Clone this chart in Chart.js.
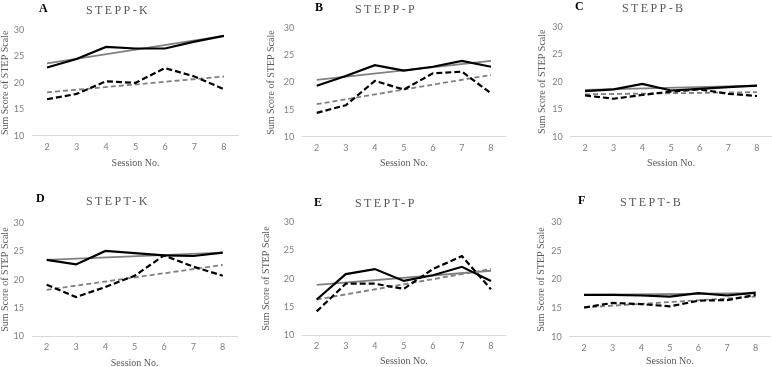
<!DOCTYPE html>
<html>
<head>
<meta charset="utf-8">
<script src="https://cdn.jsdelivr.net/npm/chart.js@4.4.1/dist/chart.umd.min.js"></script>
<style>
  html, body { margin: 0; padding: 0; background: #fff; overflow: hidden; }
  body { width: 772px; height: 367px; position: relative; }
  canvas { position: absolute; }
  .letter { position: absolute; font: bold 12px/12px "Liberation Serif", serif; color: #000; }
  .name { position: absolute; font: 12px/12px "Liberation Serif", serif; color: #595959; letter-spacing: 2.4px; white-space: nowrap; }
</style>
</head>
<body>
<script>
const sessions = ['2', '3', '4', '5', '6', '7', '8'];
const letters = ['A', 'B', 'C', 'D', 'E', 'F'];
const names = ['STEPP-K', 'STEPP-P', 'STEPP-B', 'STEPT-K', 'STEPT-P', 'STEPT-B'];

// A  STEPP-K
const steppK = [22.9, 24.5, 26.8, 26.5, 26.5, 27.8, 28.9];
const steppKDash = [16.9, 17.9, 20.3, 20.0, 22.8, 21.2, 18.8];
const steppKTrend = [23.7, null, null, null, null, null, 28.9];
const steppKDashTrend = [18.2, null, null, null, null, null, 21.2];
// B  STEPP-P
const steppP = [19.4, 21.2, 23.2, 22.2, 22.9, 24.0, 22.9];
const steppPDash = [14.4, 15.8, 20.3, 18.7, 21.7, 22.0, 18.0];
const steppPTrend = [20.5, null, null, null, null, null, 24.0];
const steppPDashTrend = [16.0, null, null, null, null, null, 21.4];
// C  STEPP-B
const steppB = [18.3, 18.6, 19.6, 18.4, 18.7, 19.0, 19.3];
const steppBDash = [17.5, 16.9, 17.6, 18.2, 18.6, 17.8, 17.4];
const steppBTrend = [18.5, null, null, null, null, null, 19.3];
const steppBDashTrend = [17.7, null, null, null, null, null, 18.1];
// D  STEPT-K
const steptK = [23.5, 22.7, 25.1, 24.7, 24.3, 24.2, 24.8];
const steptKDash = [19.1, 16.9, 18.7, 20.7, 24.3, 22.3, 20.7];
const steptKTrend = [23.5, null, null, null, null, null, 24.8];
const steptKDashTrend = [18.2, null, null, null, null, null, 22.6];
// E  STEPT-P
const steptP = [16.3, 20.8, 21.7, 19.6, 20.6, 22.1, 19.6];
const steptPDash = [14.2, 19.1, 19.1, 18.2, 21.7, 24.0, 18.1];
const steptPTrend = [18.9, null, null, null, null, null, 21.4];
const steptPDashTrend = [16.3, null, null, null, null, null, 21.7];
// F  STEPT-B
const steptB = [17.3, 17.3, 17.2, 17.0, 17.6, 17.2, 17.7];
const steptBDash = [15.1, 15.9, 15.7, 15.3, 16.3, 16.4, 17.3];
const steptBTrend = [17.3, null, null, null, null, null, 17.6];
const steptBDashTrend = [15.1, null, null, null, null, null, 17.0];

// page positions of each panel (plot area = [left, top, right, bottom])
const layouts = [
  { left: 0,   top: 0,   titleX: 4.5,   area: [32.3, 30, 238.7, 135.7],   xTitleY: 163.3, letter: [39, 2],    name: [86, 3.5] },
  { left: 255, top: 0,   titleX: 271.7, area: [302.2, 28.3, 505.5, 136.7], xTitleY: 163.3, letter: [315, 1],   name: [355, 3] },
  { left: 510, top: 0,   titleX: 542.7, area: [570.7, 26.7, 771.3, 136.7], xTitleY: 163.3, letter: [575, 0],   name: [622, 1.5] },
  { left: 0,   top: 185, titleX: 4,     area: [32, 223.3, 237.4, 336],     xTitleY: 363.3, letter: [36, 192],  name: [86, 195] },
  { left: 255, top: 185, titleX: 266.7, area: [302.2, 222.3, 505.5, 335],  xTitleY: 361.7, letter: [314, 196], name: [355, 197] },
  { left: 510, top: 185, titleX: 541.7, area: [569.7, 222.3, 770, 336.7],  xTitleY: 361.7, letter: [578, 194], name: [620, 196] }
];

const W = 262, H = 185;
const tickFont = { family: 'Lato', size: 9 };
const titleFont = { family: 'Liberation Serif', size: 10, lineHeight: 1 };

function addText(cls, text, pos) {
  const div = document.createElement('div');
  div.className = cls;
  div.textContent = text;
  div.style.left = pos[0] + 'px';
  div.style.top = pos[1] + 'px';
  document.body.appendChild(div);
}

function makePanel(i, solid, dash, trend, dashTrend) {
  const L = layouts[i];
  const canvas = document.createElement('canvas');
  canvas.width = W;
  canvas.height = H;
  canvas.style.left = L.left + 'px';
  canvas.style.top = L.top + 'px';
  document.body.appendChild(canvas);

  const padLeft = Math.max(0, L.titleX - 5 - L.left);
  const yWidth = L.area[0] - L.left - padLeft;
  const padTop = L.area[1] - L.top;
  const padRight = L.left + W - L.area[2];
  const xHeight = L.xTitleY + 5 - L.area[3];
  const padBottom = L.top + H - (L.xTitleY + 5);

  new Chart(canvas, {
    type: 'line',
    data: {
      labels: sessions,
      datasets: [
        { data: solid, borderColor: '#000', borderWidth: 2.2 },
        { data: dash, borderColor: '#000', borderWidth: 2.2, borderDash: [6, 3] },
        { data: trend, borderColor: '#808080', borderWidth: 1.8, spanGaps: true },
        { data: dashTrend, borderColor: '#808080', borderWidth: 1.8, borderDash: [5, 3], spanGaps: true }
      ]
    },
    options: {
      responsive: false,
      animation: false,
      devicePixelRatio: 1,
      layout: { padding: { left: padLeft, top: padTop, right: padRight, bottom: padBottom } },
      plugins: { legend: { display: false }, tooltip: { enabled: false } },
      elements: { point: { radius: 0 }, line: { tension: 0, fill: false } },
      scales: {
        x: {
          offset: true,
          grid: { display: false, drawTicks: false },
          border: { display: true, color: '#d9d9d9', width: 1 },
          ticks: { color: '#7f7f7f', font: tickFont, padding: 6, maxRotation: 0, autoSkip: false },
          title: { display: true, text: 'Session No.', color: '#595959', font: titleFont, padding: 0 },
          afterFit: s => { s.height = xHeight; }
        },
        y: {
          min: 10,
          max: 30,
          grid: { display: false, drawTicks: false },
          border: { display: false },
          ticks: { stepSize: 5, color: '#7f7f7f', font: tickFont, padding: 8 },
          title: { display: true, text: 'Sum Score of STEP Scale', color: '#595959', font: titleFont, padding: 0 },
          afterFit: s => { s.width = yWidth; }
        }
      }
    }
  });

  addText('letter', letters[i], L.letter);
  addText('name', names[i], L.name);
}

makePanel(0, steppK, steppKDash, steppKTrend, steppKDashTrend);
makePanel(1, steppP, steppPDash, steppPTrend, steppPDashTrend);
makePanel(2, steppB, steppBDash, steppBTrend, steppBDashTrend);
makePanel(3, steptK, steptKDash, steptKTrend, steptKDashTrend);
makePanel(4, steptP, steptPDash, steptPTrend, steptPDashTrend);
makePanel(5, steptB, steptBDash, steptBTrend, steptBDashTrend);
</script>
</body>
</html>
